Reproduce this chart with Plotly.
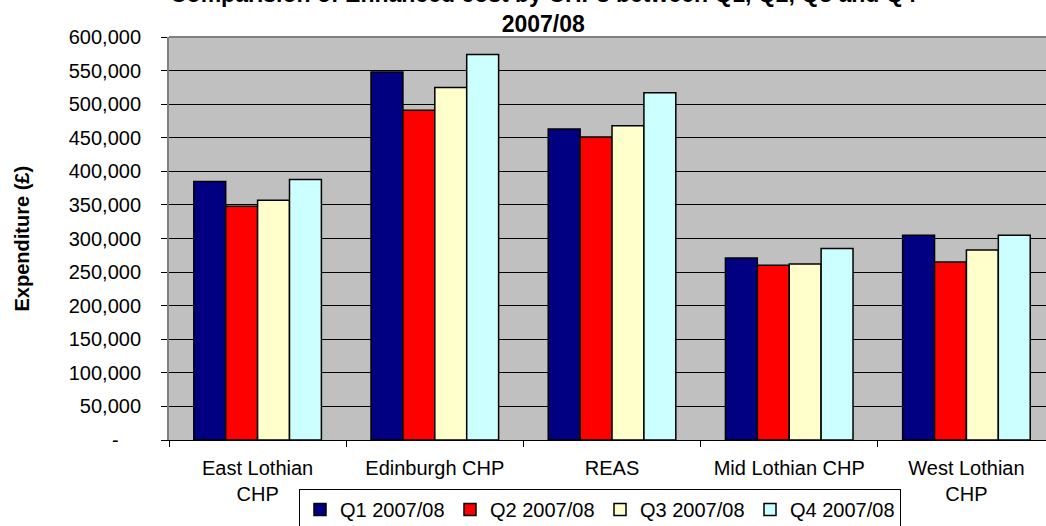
import plotly.graph_objects as go

# ---- data ----
categories = ["East Lothian<br>CHP", "Edinburgh CHP", "REAS", "Mid Lothian CHP", "West Lothian<br>CHP"]
series_names = ["Q1 2007/08", "Q2 2007/08", "Q3 2007/08", "Q4 2007/08"]
q1_values = [385000, 548000, 463000, 271000, 305000]
q2_values = [348000, 491000, 451000, 260000, 265000]
q3_values = [357000, 525000, 468000, 262000, 283000]
q4_values = [388000, 574000, 517000, 285000, 305000]
series_values = [q1_values, q2_values, q3_values, q4_values]
series_colors = ["#000080", "#FF0000", "#FFFFCC", "#CCFFFF"]

y_tickvals = [0, 50000, 100000, 150000, 200000, 250000, 300000,
              350000, 400000, 450000, 500000, 550000, 600000]
y_ticktext = ["-\u00a0\u00a0\u00a0\u00a0", "50,000", "100,000", "150,000", "200,000", "250,000",
              "300,000", "350,000", "400,000", "450,000", "500,000", "550,000", "600,000"]

title_text = "Comparision of Enhanced cost by CHPs between Q1, Q2, Q3 and Q4<br>2007/08"
y_title = "Expenditure (£)"

FONT = "Liberation Sans, Arial, sans-serif"

fig = go.Figure()
for name, vals, col in zip(series_names, series_values, series_colors):
    fig.add_trace(go.Bar(
        x=categories, y=vals, name=name,
        marker=dict(color=col, line=dict(color="black", width=1.5)),
    ))

fig.update_layout(
    width=1046, height=526,
    margin=dict(l=169, r=0, t=37, b=86, autoexpand=False),
    paper_bgcolor="white",
    plot_bgcolor="#C0C0C0",
    barmode="group",
    bargap=0.28,
    bargroupgap=0,
    font=dict(family=FONT, size=20, color="black"),
    showlegend=True,
    legend=dict(
        orientation="h",
        x=(299 - 169) / 877, xanchor="left",
        y=(440 - 489) / 403, yanchor="top",
        bgcolor="white", bordercolor="black", borderwidth=1,
        font=dict(family=FONT, size=20, color="black"),
        entrywidth=105, entrywidthmode="pixels",
        itemclick=False,
    ),
    xaxis=dict(
        type="category",
        range=[-0.5, 4.449],
        showgrid=False,
        showline=True, linecolor="black", linewidth=1,
        ticks="outside", ticklen=6, tickcolor="black", tickwidth=1,
        tickson="boundaries",
        ticklabelstandoff=10,
        tickfont=dict(family=FONT, size=20, color="black"),
        fixedrange=True,
    ),
    yaxis=dict(
        range=[0, 600000],
        tickvals=y_tickvals, ticktext=y_ticktext,
        showgrid=True, gridcolor="black", gridwidth=1,
        showline=True, linecolor="#808080", linewidth=2,
        ticks="outside", ticklen=6, tickcolor="black", tickwidth=1,
        ticklabelstandoff=16,
        tickfont=dict(family=FONT, size=20, color="black"),
        zeroline=False,
        fixedrange=True,
    ),
    annotations=[
        dict(
            text="<b>" + title_text.replace("<br>", "</b><br><b>") + "</b>",
            xref="paper", yref="paper",
            x=(543 - 169) / 877, y=(440 - 9) / 403,
            xanchor="center", yanchor="middle",
            showarrow=False,
            font=dict(family=FONT, size=23, color="black"),
        ),
        dict(
            text="<b>" + y_title + "</b>",
            xref="paper", yref="paper",
            x=(21 - 169) / 877, y=0.5,
            xanchor="center", yanchor="middle",
            textangle=-90,
            showarrow=False,
            font=dict(family=FONT, size=20, color="black"),
        ),
    ],
    shapes=[
        dict(type="line", xref="paper", yref="paper", x0=0, x1=1, y0=1, y1=1,
             line=dict(color="#808080", width=2)),
    ],
)

fig.write_html("out.html", config={"displayModeBar": False})
